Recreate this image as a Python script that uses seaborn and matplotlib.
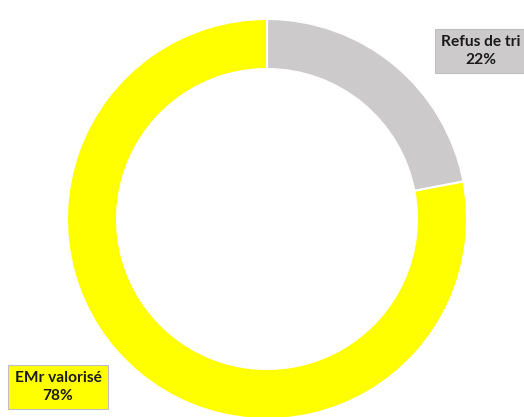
import matplotlib
matplotlib.use("Agg")
import matplotlib.pyplot as plt
import seaborn as sns

categories = ["Refus de tri", "EMr valorisé"]
values = [22, 78]
labels_pct = ["22%", "78%"]
colors = ["#cccaca", "#ffff00"]

sns.set_theme(style="white")
plt.rcParams['font.family'] = ['Lato', 'DejaVu Sans']

fig = plt.figure(figsize=(5.24, 4.17), dpi=100)
ax = fig.add_axes([0, 0, 1, 1])
ax.pie(values, colors=colors, startangle=90, counterclock=False,
       radius=1.0, wedgeprops=dict(width=0.25, edgecolor="white", linewidth=1.5))
ax.set_aspect("equal")
ax.set_xlim(-1.335, 1.285)
ax.set_ylim(-0.99, 1.095)
ax.axis("off")

label_pos = [(1.07, 0.84), (-1.045, -0.84)]
for cat, pct, col, (x, y) in zip(categories, labels_pct, colors, label_pos):
    ax.text(x, y, f"{cat}\n{pct}", ha="center", va="center", fontsize=11.2,
            fontweight="bold", color="#1a1a1a", linespacing=1.35,
            bbox=dict(boxstyle="square,pad=0.4", facecolor=col,
                      edgecolor="#bfbfbf", linewidth=0.8))

fig.savefig("out.png", dpi=100)
